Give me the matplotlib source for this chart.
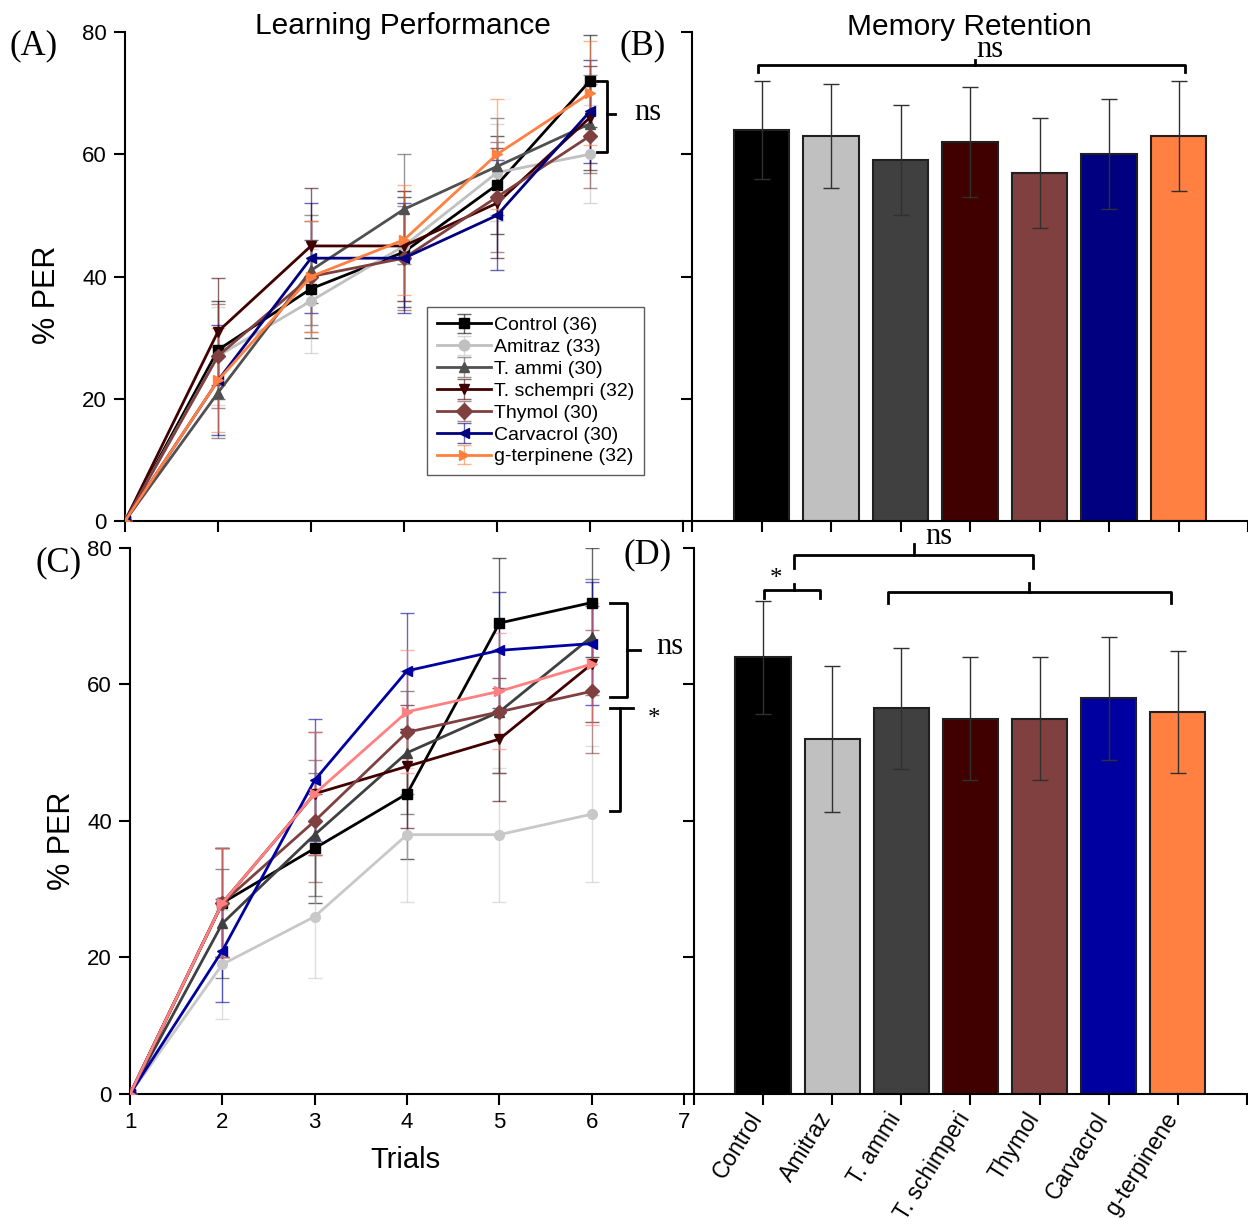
import numpy as np
import matplotlib
matplotlib.use("Agg")
import matplotlib.pyplot as plt
from matplotlib.colors import to_rgba

plt.rcParams['font.family'] = ['Liberation Sans', 'DejaVu Sans']

# data
trials = [1, 2, 3, 4, 5, 6]
groups = ["Control", "Amitraz", "T. ammi", "T. schimperi", "Thymol", "Carvacrol", "g-terpinene"]
legend_labels = ["Control (36)", "Amitraz (33)", "T. ammi (30)", "T. schempri (32)",
                 "Thymol (30)", "Carvacrol (30)", "g-terpinene (32)"]

learn_A = [
    [0, 28, 38, 44, 55, 72],
    [0, 27, 36, 45, 57, 60],
    [0, 21, 41, 51, 58, 65],
    [0, 31, 45, 45, 52, 66],
    [0, 27, 40, 43, 53, 63],
    [0, 23, 43, 43, 50, 67],
    [0, 23, 40, 46, 60, 70],
]
err_A = [
    [0, 8, 8, 9, 8, 7.5],
    [0, 8, 8.5, 9, 8, 8],
    [0, 7.5, 9, 9, 8, 8],
    [0, 8.7, 9.4, 9, 9, 8.5],
    [0, 8.5, 9, 8.5, 9, 8.5],
    [0, 9, 9, 9, 9, 8.5],
    [0, 8.5, 9, 9, 9, 8.5],
]
learn_C = [
    [0, 28, 36, 44, 69, 72],
    [0, 19, 26, 38, 38, 41],
    [0, 25, 38, 50, 56, 67],
    [0, 28, 44, 48, 52, 63],
    [0, 28, 40, 53, 56, 59],
    [0, 21, 46, 62, 65, 66],
    [0, 28, 44, 56, 59, 63],
]
err_C = [
    [0, 8, 8, 9.5, 9.5, 8],
    [0, 8, 9, 9.8, 9.8, 10],
    [0, 8, 9, 9, 9, 8.5],
    [0, 8, 9, 9, 9, 8.5],
    [0, 8, 9, 9, 9, 9],
    [0, 7.5, 9, 8.5, 8.5, 9],
    [0, 8, 9, 9, 8.5, 9],
]
retention_B = [64, 63, 59, 62, 57, 60, 63]
retention_B_err = [8, 8.5, 9, 9, 9, 9, 9]
retention_D = [64, 52, 56.5, 55, 55, 58, 56]
retention_D_err = [8.3, 10.7, 8.9, 9, 9, 9, 8.9]

markers = ['s', 'o', '^', 'v', 'D', '<', '>']
colors_A = ['#000000', '#C0C0C0', '#505050', '#400000', '#804040', '#000080', '#FF8040']
colors_C = ['#000000', '#C8C8C8', '#404040', '#400000', '#804040', '#0000A0', '#FF8080']
bar_colors_B = ['#000000', '#C0C0C0', '#404040', '#400000', '#804040', '#000080', '#FF8040']
bar_colors_D = ['#000000', '#C0C0C0', '#404040', '#400000', '#804040', '#0000A0', '#FF8040']

fig = plt.figure(figsize=(12.48, 12.27), dpi=100)
axA = fig.add_axes([0.1002, 0.5754, 0.447, 0.3985])
axB = fig.add_axes([0.5545, 0.5754, 0.4455, 0.3985])
axC = fig.add_axes([0.1042, 0.1084, 0.444, 0.4450])
axD = fig.add_axes([0.5561, 0.1084, 0.4430, 0.4450])


def style_axis(ax):
    for s in ['top', 'right']:
        ax.spines[s].set_visible(False)
    for s in ['left', 'bottom']:
        ax.spines[s].set_linewidth(1.5)
    ax.tick_params(direction='out', length=8, width=1.5, labelsize=16, pad=5)


def line_panel(ax, data, errs, colors):
    for i in range(len(data)):
        ax.errorbar(trials, data[i], yerr=errs[i], color=colors[i], marker=markers[i],
                    ms=7, lw=2, elinewidth=1, capsize=5, capthick=1,
                    ecolor=to_rgba(colors[i], 0.6), label=legend_labels[i], zorder=3)
    ax.set_xlim(1, 7)
    ax.set_ylim(0, 80)
    ax.set_xticks(range(1, 8))
    ax.set_yticks([0, 20, 40, 60, 80])
    style_axis(ax)


def bar_panel(ax, vals, errs, colors):
    pos = np.arange(1, len(vals) + 1)
    ax.bar(pos, vals, width=0.8, color=colors, edgecolor='#202020', linewidth=1.5, zorder=2)
    ax.errorbar(pos, vals, yerr=errs, fmt='none', ecolor='#303030', elinewidth=1,
                capsize=6, capthick=1, zorder=3)
    ax.set_xlim(0, 8)
    ax.set_ylim(0, 80)
    ax.set_xticks(range(0, 9))
    ax.set_yticks([0, 20, 40, 60, 80])
    ax.set_yticklabels([])
    style_axis(ax)


def hbrace(ax, x0, x1, y, tip_x, h=1.2, tip=0.8, lw=2):
    ax.plot([x0, x0, x1, x1], [y - h, y, y, y - h], color='black', lw=lw, clip_on=False)
    ax.plot([tip_x, tip_x], [y, y + tip], color='black', lw=lw, clip_on=False)


def vbrace(ax, y0, y1, x, end_x, tip_y, tip_x, lw=2):
    ax.plot([end_x, x, x, end_x], [y0, y0, y1, y1], color='black', lw=lw, clip_on=False)
    ax.plot([x, tip_x], [tip_y, tip_y], color='black', lw=lw, clip_on=False)


serif = 'Liberation Serif'

# Panel A
line_panel(axA, learn_A, err_A, colors_A)
axA.set_xticklabels([])
axA.legend(loc='upper left', bbox_to_anchor=(0.541, 0.438), borderaxespad=0,
           fontsize=14, frameon=True, fancybox=False, edgecolor='#333333',
           handlelength=2.8, labelspacing=0.22, borderpad=0.5, handletextpad=0.15,
           markerscale=1.1)
vbrace(axA, 72, 60.3, 6.18, 6.08, 66.6, 6.27)
axA.text(6.62, 66.8, 'ns', fontsize=22, family=serif, va='center', ha='center')

# Panel C
line_panel(axC, learn_C, err_C, colors_C)
vbrace(axC, 72, 58.2, 6.38, 6.2, 65.1, 6.52)
axC.text(6.85, 65.6, 'ns', fontsize=22, family=serif, va='center', ha='center')
vbrace(axC, 56.6, 41.5, 6.3, 6.2, 56.6, 6.45)
axC.text(6.67, 55.0, '*', fontsize=18, family=serif, va='center', ha='center')

# Panel B
bar_panel(axB, retention_B, retention_B_err, bar_colors_B)
axB.set_xticklabels([])
hbrace(axB, 0.95, 7.1, 74.6, 4.07)
axB.text(4.29, 77.2, 'ns', fontsize=22, family=serif, va='center', ha='center')

# Panel D
bar_panel(axD, retention_D, retention_D_err, bar_colors_D)
axD.set_xticklabels([''] + groups + [''], rotation=58, ha='right', va='baseline',
                    rotation_mode='anchor', fontsize=16.5)
axD.tick_params(axis='x', pad=9)
hbrace(axD, 1.01, 1.82, 73.8, 1.44, h=1.1, tip=0.9)
axD.text(1.19, 75.4, '*', fontsize=18, family=serif, va='center', ha='center')
hbrace(axD, 1.44, 4.9, 79.0, 3.18, h=2.0, tip=1.6)
axD.text(3.55, 81.7, 'ns', fontsize=22, family=serif, va='center', ha='center')
hbrace(axD, 2.81, 6.9, 73.6, 4.85, h=1.6, tip=1.2)

# titles, axis labels, panel letters
fig.text(0.323, 0.979, 'Learning Performance', fontsize=21.5, ha='center', va='center')
fig.text(0.777, 0.978, 'Memory Retention', fontsize=21.5, ha='center', va='center')
fig.text(0.038, 0.760, '% PER', fontsize=22, rotation=90, ha='center', va='center')
fig.text(0.050, 0.315, '% PER', fontsize=22, rotation=90, ha='center', va='center')
fig.text(0.325, 0.055, 'Trials', fontsize=21, ha='center', va='center')
for lab, x, y in [('(A)', 0.027, 0.963), ('(B)', 0.515, 0.963),
                  ('(C)', 0.047, 0.541), ('(D)', 0.519, 0.548)]:
    fig.text(x, y, lab, fontsize=25, family=serif, ha='center', va='center')

fig.savefig('out.png', dpi=100)
